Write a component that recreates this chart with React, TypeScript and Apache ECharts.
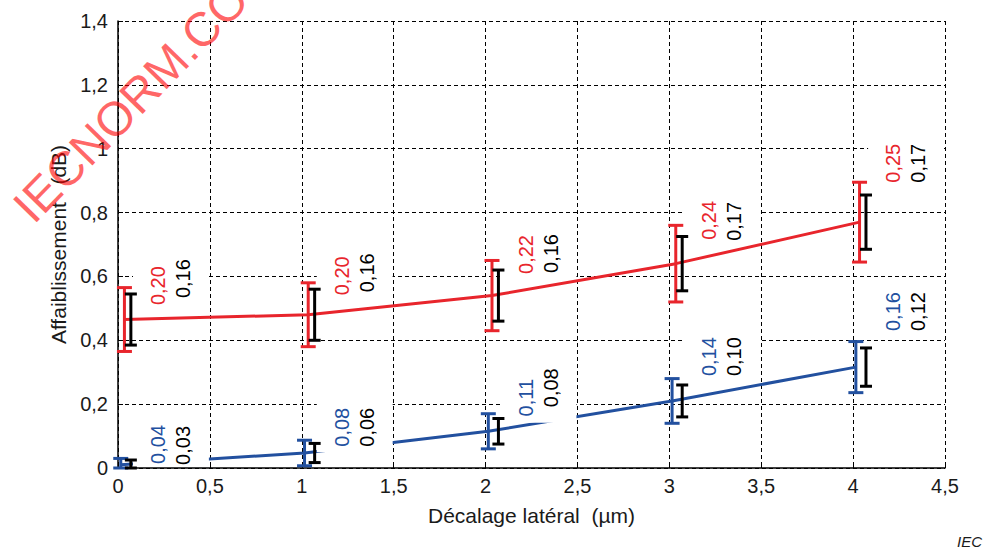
import React, { useEffect, useRef } from "react";
import * as echarts from "echarts";

// ---------- DATA ----------
const X_POSITIONS = [0, 1, 2, 3, 4];
const RED_MEAN = [0.465, 0.48, 0.54, 0.64, 0.77];
const RED_SPREAD = [0.2, 0.2, 0.22, 0.24, 0.25];
const RED_REF_SPREAD = [0.16, 0.16, 0.16, 0.17, 0.17];
const BLUE_MEAN = [0.01, 0.047, 0.115, 0.21, 0.316];
const BLUE_SPREAD = [0.04, 0.08, 0.11, 0.14, 0.16];
const BLUE_REF_SPREAD = [0.03, 0.06, 0.08, 0.1, 0.12];
const X_TICKS = [0, 0.5, 1, 1.5, 2, 2.5, 3, 3.5, 4, 4.5];
const Y_TICKS = [0, 0.2, 0.4, 0.6, 0.8, 1, 1.2, 1.4];

// ---------- LAYOUT / STYLE ----------
const RED = "#e8252c";
const BLUE = "#22509f";
const BLACK = "#000000";
const FONT = '"Liberation Sans", Arial, sans-serif';
const RED_DX = 0.035;
const BLUE_DX = 0.015;
const REF_DX = 0.07;
const LABEL_DX_PX = 40;
const LABEL_GAP_PX = 25;
// label lift (px above coloured bar top) for coloured / black labels
const RED_LIFT = [2, 7, 6, 5, 19];
const RED_REF_LIFT = [9, 10, 7, 4, 19];
const BLUE_LIFT = [14, 13, 16, 22, 30];
const BLUE_REF_LIFT = [13, 13, 26, 22, 30];

const fmt = (v: number) => String(Math.round(v * 100) / 100).replace(".", ",");
const fmt2 = (v: number) => v.toFixed(2).replace(".", ",");

function makeData(mean: number[], spread: number[], ref: number[]) {
  return X_POSITIONS.map((x, i) => [x, mean[i], spread[i], ref[i]]);
}

function barsRender(color: string, dx: number) {
  return (params: any, api: any) => {
    const x = api.value(0);
    const m = api.value(1);
    const s = api.value(2);
    const r = api.value(3);
    const children: any[] = [];
    const addBar = (xv: number, lo: number, hi: number, c: string, capW: number) => {
      const b = api.coord([xv, Math.max(0, lo)]);
      const t = api.coord([xv, hi]);
      const w = 3;
      children.push({
        type: "line",
        shape: { x1: b[0], y1: b[1], x2: t[0], y2: t[1] },
        style: { stroke: c, lineWidth: w },
      });
      [b, t].forEach((p) => {
        children.push({
          type: "line",
          shape: { x1: p[0] - capW / 2, y1: p[1], x2: p[0] + capW / 2, y2: p[1] },
          style: { stroke: c, lineWidth: w },
        });
      });
    };
    addBar(x + dx, m - s / 2, m + s / 2, color, 15);
    addBar(x + REF_DX, m - r / 2, m + r / 2, BLACK, 12);
    return { type: "group", children };
  };
}

function labelGeom(api: any, idx: number, lift: number[], refLift: number[]) {
  const x = api.value(0);
  const m = api.value(1);
  const s = api.value(2);
  const top = api.coord([x, m + s / 2]);
  const px = api.coord([x, 0])[0];
  const cx = px + LABEL_DX_PX;
  const cy = top[1] - lift[idx];
  const rcx = cx + LABEL_GAP_PX;
  const rcy = top[1] - refLift[idx];
  return { x, cx, cy, rcx, rcy };
}

function boxRender(lift: number[], refLift: number[]) {
  return (params: any, api: any) => {
    const g = labelGeom(api, params.dataIndex, lift, refLift);
    const left = g.cx - 25;
    const right = api.coord([g.x + 0.5, 0])[0] - 1;
    const top = Math.min(g.cy, g.rcy) - 25;
    const bottom = Math.min(Math.max(g.cy, g.rcy) + 25, api.coord([0, 0])[1] - 2);
    return {
      type: "rect",
      shape: { x: left, y: top, width: right - left, height: bottom - top },
      style: { fill: "#ffffff" },
    };
  };
}

function labelRender(color: string, lift: number[], refLift: number[]) {
  return (params: any, api: any) => {
    const g = labelGeom(api, params.dataIndex, lift, refLift);
    const s = api.value(2);
    const r = api.value(3);
    const mk = (text: string, x: number, y: number, fill: string) => ({
      type: "text",
      x,
      y,
      rotation: Math.PI / 2,
      style: {
        text,
        fill,
        font: `20px ${FONT}`,
        align: "center",
        verticalAlign: "middle",
      },
    });
    return {
      type: "group",
      children: [mk(fmt2(s), g.cx, g.cy, color), mk(fmt2(r), g.rcx, g.rcy, BLACK)],
    };
  };
}

export default function App() {
  const ref = useRef<HTMLDivElement>(null);
  useEffect(() => {
    if (!ref.current) return;
    const chart = echarts.init(ref.current, null, { renderer: "svg" });
    const redData = makeData(RED_MEAN, RED_SPREAD, RED_REF_SPREAD);
    const blueData = makeData(BLUE_MEAN, BLUE_SPREAD, BLUE_REF_SPREAD);
    const axisText = { fontFamily: FONT, fontSize: 20, color: "#1a1a1a" };
    const split = { show: true, lineStyle: { type: [4, 3], color: "#000", width: 1 } };
    const option: any = {
      animation: false,
      backgroundColor: "#ffffff",
      grid: { left: 118, right: 41, top: 21, bottom: 84, containLabel: false },
      xAxis: {
        type: "value",
        min: X_TICKS[0],
        max: X_TICKS[X_TICKS.length - 1],
        interval: 0.5,
        name: "Décalage latéral  (µm)",
        nameLocation: "middle",
        nameGap: 37,
        nameTextStyle: { ...axisText, fontSize: 21 },
        axisLine: { show: true, onZero: false, lineStyle: { color: "#000", width: 1.5 } },
        axisTick: { show: true, inside: true, length: 5, lineStyle: { color: "#000", width: 1 } },
        axisLabel: { ...axisText, margin: 8, formatter: (v: number) => fmt(v) },
        splitLine: split,
      },
      yAxis: {
        type: "value",
        min: Y_TICKS[0],
        max: Y_TICKS[Y_TICKS.length - 1],
        interval: 0.2,
        name: "Affaiblissement   (dB)",
        nameLocation: "middle",
        nameGap: 47,
        nameRotate: 90,
        nameTextStyle: { ...axisText, fontSize: 21 },
        axisLine: { show: true, onZero: false, lineStyle: { color: "#000", width: 1.5 } },
        axisTick: { show: true, inside: true, length: 5, lineStyle: { color: "#000", width: 1 } },
        axisLabel: { ...axisText, margin: 10, formatter: (v: number) => fmt(v) },
        splitLine: split,
      },
      series: [
        {
          type: "line",
          z: 2,
          data: X_POSITIONS.map((x, i) => [x + BLUE_DX, BLUE_MEAN[i]]),
          symbol: "none",
          lineStyle: { color: BLUE, width: 3 },
          silent: true,
        },
        {
          type: "custom",
          z: 3,
          data: blueData,
          encode: { x: 0, y: 1 },
          renderItem: boxRender(BLUE_LIFT, BLUE_REF_LIFT),
          silent: true,
        },
        {
          type: "custom",
          z: 3,
          data: redData,
          encode: { x: 0, y: 1 },
          renderItem: boxRender(RED_LIFT, RED_REF_LIFT),
          silent: true,
        },
        {
          type: "line",
          z: 4,
          data: X_POSITIONS.map((x, i) => [x + RED_DX, RED_MEAN[i]]),
          symbol: "none",
          lineStyle: { color: RED, width: 3 },
          silent: true,
        },
        {
          type: "custom",
          z: 5,
          data: blueData,
          encode: { x: 0, y: 1 },
          renderItem: barsRender(BLUE, BLUE_DX),
          silent: true,
        },
        {
          type: "custom",
          z: 5,
          data: redData,
          encode: { x: 0, y: 1 },
          renderItem: barsRender(RED, RED_DX),
          silent: true,
        },
        {
          type: "custom",
          z: 6,
          data: blueData,
          encode: { x: 0, y: 1 },
          renderItem: labelRender(BLUE, BLUE_LIFT, BLUE_REF_LIFT),
          silent: true,
        },
        {
          type: "custom",
          z: 6,
          data: redData,
          encode: { x: 0, y: 1 },
          renderItem: labelRender(RED, RED_LIFT, RED_REF_LIFT),
          silent: true,
        },
      ],
      graphic: [
        {
          type: "text",
          x: 22,
          y: 214,
          rotation: 0.798,
          z: 100,
          style: {
            text: "IECNORM.COM",
            font: `48px ${FONT}`,
            fill: "rgba(255,0,0,0.6)",
            align: "left",
            verticalAlign: "middle",
          },
        },
        {
          type: "text",
          right: 4,
          top: 534,
          style: {
            text: "IEC",
            font: `italic 15px ${FONT}`,
            fill: "#1a1a1a",
          },
        },
      ],
    };
    chart.setOption(option);
    return () => chart.dispose();
  }, []);
  return (
    <div
      ref={ref}
      style={{ position: "absolute", left: 0, top: 0, width: 986, height: 552 }}
    />
  );
}
